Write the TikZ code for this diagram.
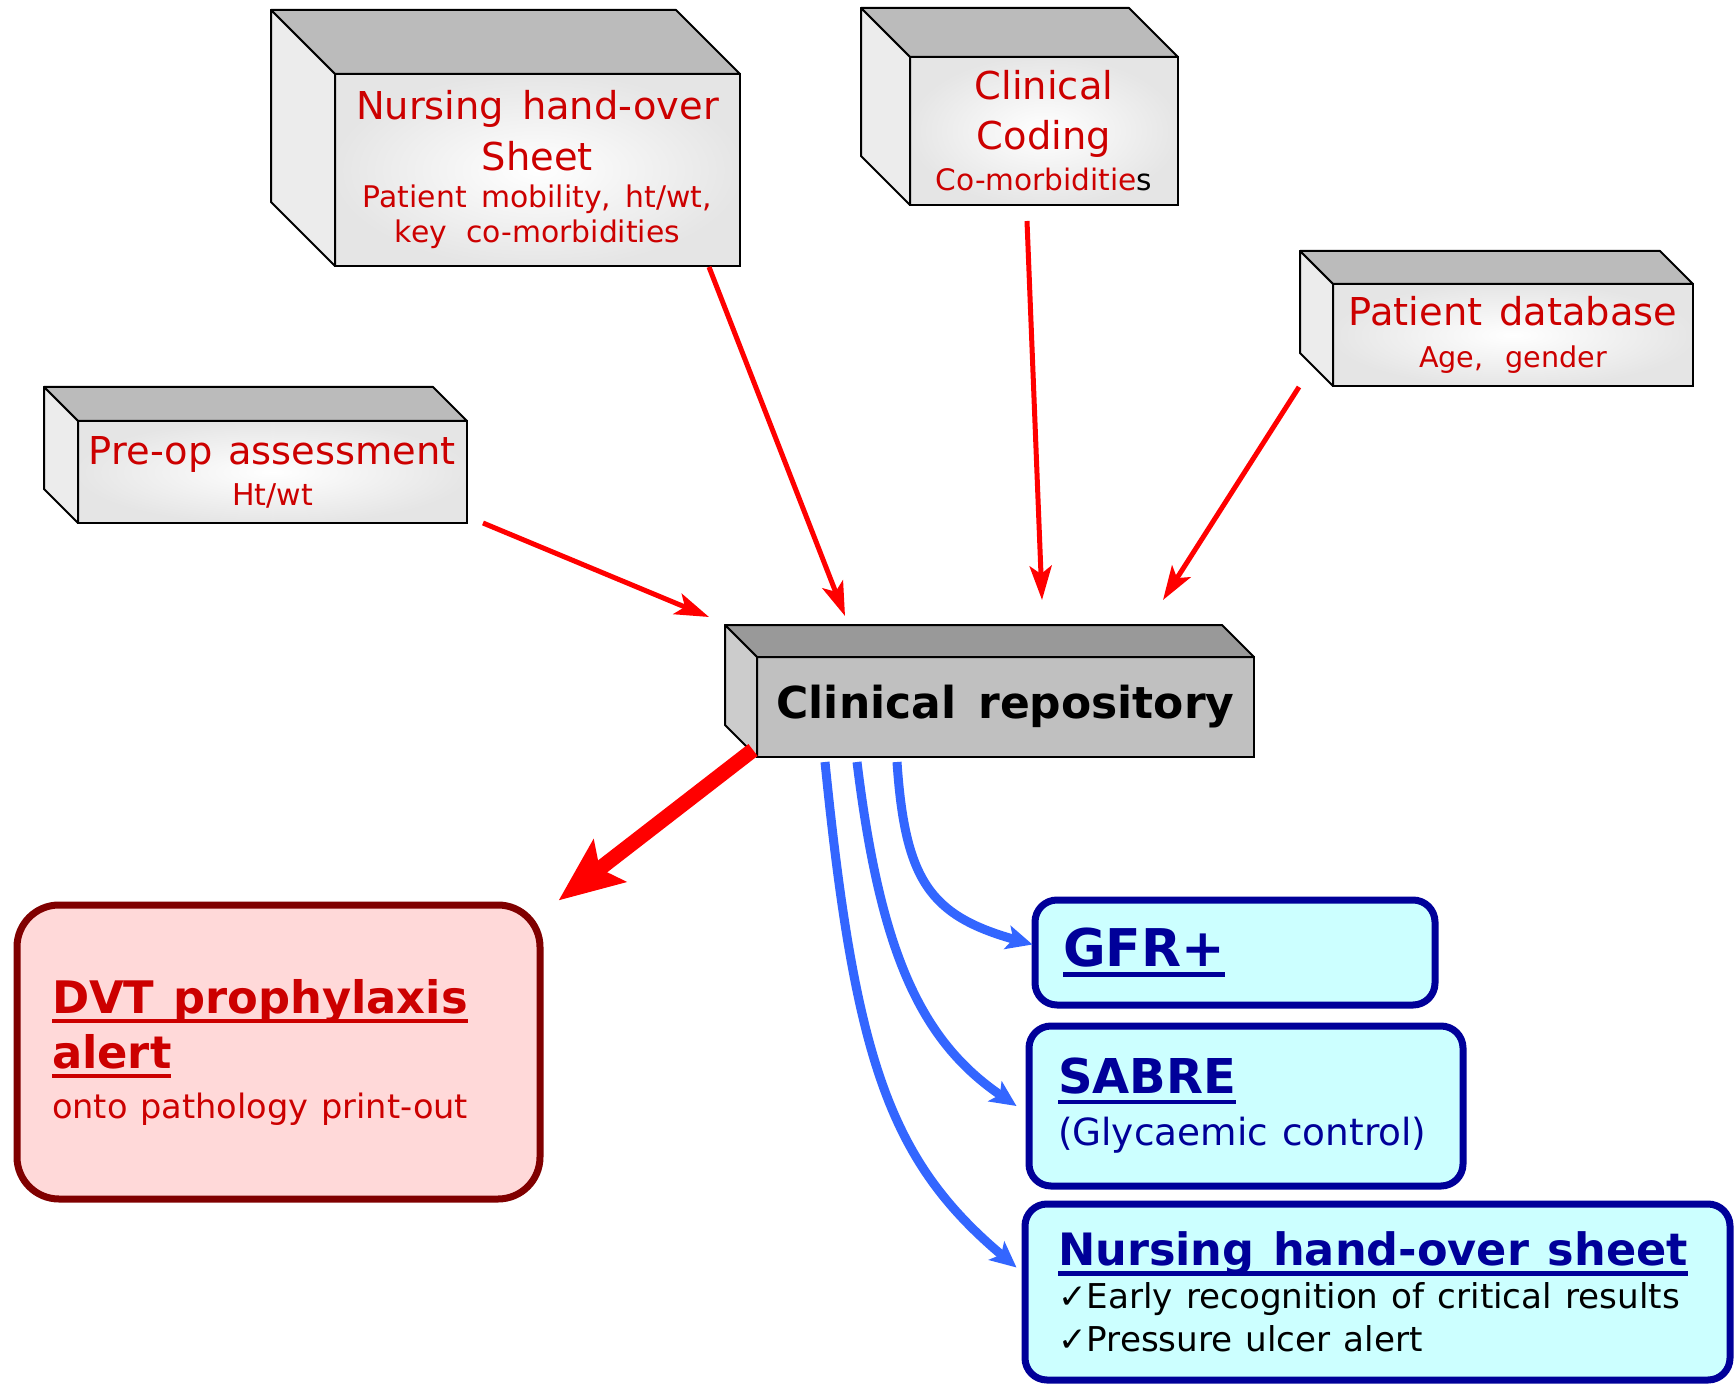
\documentclass[tikz,border=0pt]{standalone}
\usepackage{fontspec}
\setmainfont[WordSpace=1.2]{DejaVu Sans}
\usetikzlibrary{arrows.meta}
\definecolor{txtred}{RGB}{204,0,0}
\definecolor{arrred}{RGB}{255,0,0}
\definecolor{arrblue}{RGB}{51,102,255}
\definecolor{navy}{RGB}{0,0,153}
\definecolor{cubetop}{RGB}{187,187,187}
\definecolor{cubeside}{RGB}{236,236,236}
\definecolor{repofront}{RGB}{192,192,192}
\definecolor{repotop}{RGB}{153,153,153}
\definecolor{reposide}{RGB}{204,204,204}
\definecolor{gfrfill}{RGB}{204,255,255}
\definecolor{dvtfill}{RGB}{255,217,217}
\definecolor{dvtline}{RGB}{128,0,0}
\newcommand\fz[2]{\fontsize{#1pt}{#2pt}\selectfont\spaceskip=0pt\xspaceskip=0pt}
\newcommand\ulbox[1]{\leavevmode\setbox0=\hbox{#1}\rlap{\rule[-5pt]{\wd0}{2.2pt}}\box0}
\hyphenpenalty=10000
\frenchspacing

\begin{document}
\begin{tikzpicture}[x=0.5pt,y=-0.5pt,
  cube/.style={draw,line width=1pt,outer sep=0pt,inner sep=2pt,align=center,text=txtred,
    shade,inner color=white,outer color=black!10},
  face/.style={draw,line width=1pt,line join=round},
  rbox/.style={line width=3.5pt,rounded corners=#1,align=left},
  rbox/.default=11pt,
  redarr/.style={draw=arrred,line width=2.5pt,-{Stealth[length=17pt,width=11pt,inset=4pt]}},
  bluearr/.style={draw=arrblue,line width=4.5pt,-{Stealth[length=13pt,width=12pt,inset=3pt]}}]
\useasboundingbox[fill=white] (0,0) rectangle (1734,1385);
% sources
\node[cube,minimum width=202.5pt,minimum height=96pt,text width=198.5pt] (nurse) at (537.5,170)
  {\fz{19.2}{25.5}Nursing hand-over\\Sheet\\[1pt]\fz{14.9}{17.5}Patient mobility, ht/wt,\\key co-morbidities\par};
\node[cube,minimum width=134pt,minimum height=74pt,text width=130pt] (coding) at (1044,131)
  {\fz{19.2}{25}Clinical\\Coding\\\fz{14.8}{20.5}Co-morbiditie{\color{black}s}\par};
\node[cube,minimum width=180pt,minimum height=51pt,text width=176pt] (patdb) at (1513,335)
  {\fz{19.2}{22}Patient database\\\fz{14.3}{21}Age, gender\par};
\node[cube,minimum width=194.5pt,minimum height=51pt,text width=190.5pt] (preop) at (272.5,472)
  {\fz{19.2}{22}Pre-op assessment\\\fz{15}{20.5}Ht/wt\par};
\node[cube,shade=none,fill=repofront,text=black,minimum width=248.5pt,minimum height=50pt,text width=244.5pt] (repo) at (1005.5,707)
  {\fz{22}{26}\bfseries Clinical repository\par};
\foreach \n/\d/\t/\s in {nurse/64/cubetop/cubeside,coding/49/cubetop/cubeside,patdb/33/cubetop/cubeside,
  preop/34/cubetop/cubeside,repo/32/repotop/reposide}{
\draw[face,fill=\t] (\n.north west) -- ++(-\d,-\d) -- ([shift={(-\d,-\d)}]\n.north east) -- (\n.north east) -- cycle;
\draw[face,fill=\s] (\n.north west) -- ++(-\d,-\d) -- ([shift={(-\d,-\d)}]\n.south west) -- (\n.south west) -- cycle;
}
% outputs
\node[rbox=21pt,draw=dvtline,fill=dvtfill,text=txtred,minimum width=261.5pt,minimum height=147pt,
  inner xsep=17.5pt,text width=226.5pt] (dvt) at (278.5,1052)
  {\fz{22.4}{27.5}\bfseries\ulbox{DVT prophylaxis}\\\ulbox{alert}\\\fz{16.8}{25}\mdseries onto pathology print-out\par};
\node[rbox,draw=navy,fill=gfrfill,text=navy,minimum width=200pt,minimum height=52.5pt,
  inner xsep=14pt,text width=172pt] (gfr) at (1235,952.5)
  {\fz{26}{30}\bfseries\ulbox{GFR+}\par};
\node[rbox,draw=navy,fill=gfrfill,text=navy,minimum width=217pt,minimum height=80pt,
  inner xsep=14.5pt,text width=188pt] (sabre) at (1246,1106)
  {\fz{24}{28}\bfseries\ulbox{SABRE}\\\fz{18.7}{26}\mdseries(Glycaemic control)\par};
\node[rbox,draw=navy,fill=gfrfill,text=navy,minimum width=352.5pt,minimum height=88pt,
  inner xsep=16.5pt,text width=319.5pt] (nhs) at (1377.5,1292)
  {\fz{22.3}{26}\bfseries\ulbox{Nursing hand-over sheet}\\\fz{17.1}{21.5}\mdseries\color{black}✓Early recognition of critical results\\✓Pressure ulcer alert\par};
% connectors
\draw[redarr] ([shift={(16,0)}]preop.south east) -- ([shift={(-48,-40)}]repo.north west);
\draw[redarr] ([shift={(-31,1)}]nurse.south east) -- ([shift={(88,-41)}]repo.north west);
\draw[redarr] ([shift={(-17,16)}]coding.south) -- ([shift={(36.5,-57)}]repo.north);
\draw[redarr] ([shift={(-34,1)}]patdb.south west) -- ([shift={(-91,-57)}]repo.north east);
\draw[draw=arrred,line width=7.5pt,-{Stealth[length=32pt,width=26pt,inset=6pt]}]
  ([shift={(-4,-7)}]repo.south west) -- ([shift={(15,-1)}]dvt.north east);
\draw[bluearr] ([shift={(140,5)}]repo.south west) .. controls +(8,118) and +(-103,-29) .. ([shift={(1,-8)}]gfr.west);
\draw[bluearr] ([shift={(100,5)}]repo.south west) .. controls +(23,188) and +(-97,-66) .. ([shift={(-9,0)}]sabre.west);
\draw[bluearr] ([shift={(68,5)}]repo.south west) .. controls +(30,298) and +(-127,-107) .. ([shift={(-5,67)}]nhs.north west);
\end{tikzpicture}
\end{document}
